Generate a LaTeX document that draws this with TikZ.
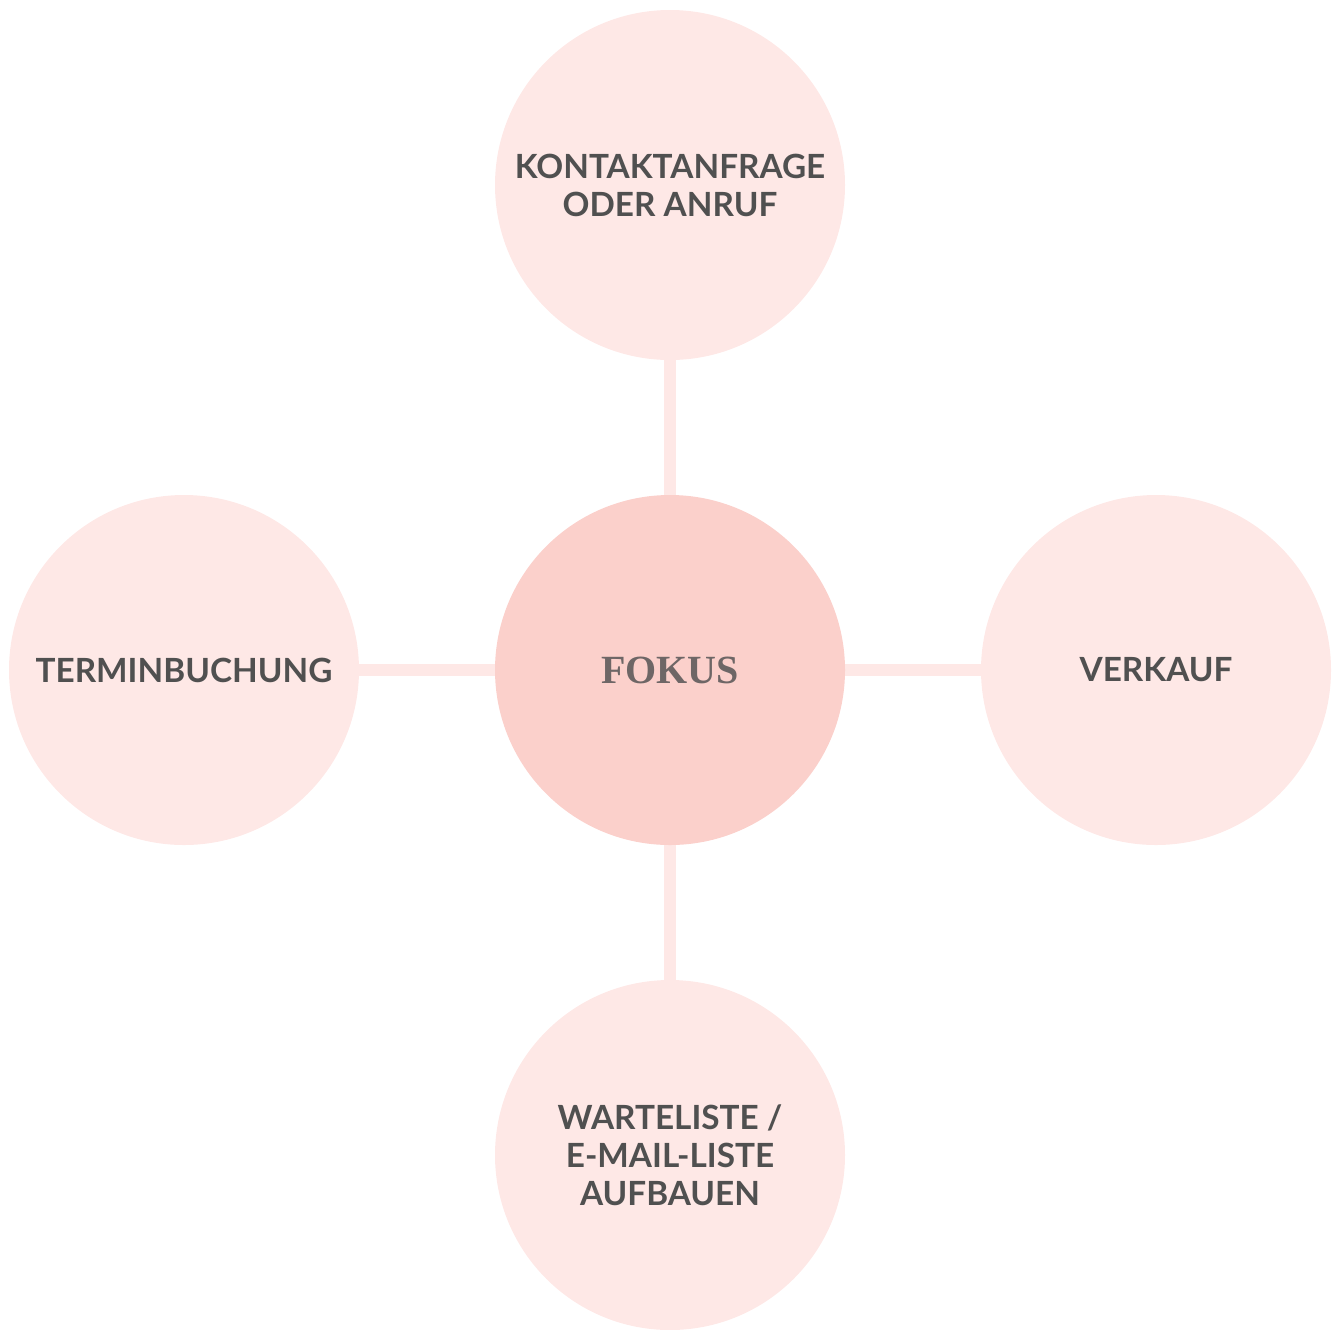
\documentclass[tikz,border=0pt]{standalone}
\usepackage{fontspec}
\setmainfont{Lato}
\newfontfamily\fokusfont{Liberation Serif}
\definecolor{outerpink}{HTML}{FEE8E6}
\definecolor{centerpink}{HTML}{FBD0CB}
\definecolor{labelgray}{HTML}{505050}
\definecolor{fokusgray}{HTML}{6E6666}
\tikzset{
  bubble/.style={circle, fill=outerpink, minimum size=262.5pt, inner sep=0pt, font=\fontsize{25}{28.5}\selectfont\bfseries, text=labelgray, align=center},
  hub/.style={circle, fill=centerpink, minimum size=262.5pt, inner sep=0pt, font=\fontsize{30}{34}\fokusfont\bfseries, text=fokusgray},
  spoke/.style={draw=outerpink, line width=9pt}
}
\begin{document}
\begin{tikzpicture}[x=0.75pt, y=-0.75pt]
\useasboundingbox (0,0) rectangle (1337,1329);
\coordinate (c) at (670,670);
\coordinate (t) at (670,185);
\coordinate (l) at (184,670);
\coordinate (r) at (1156,670);
\coordinate (b) at (670,1155);
\draw[spoke] (c) -- (t);
\draw[spoke] (c) -- (l);
\draw[spoke] (c) -- (r);
\draw[spoke] (c) -- (b);
\node[hub] (fokus) at (c) {FOKUS};
\node[bubble] (kontakt) at (t) {KONTAKTANFRAGE\\ODER ANRUF};
\node[bubble] (termin) at (l) {TERMINBUCHUNG};
\node[bubble] (verkauf) at (r) {VERKAUF};
\node[bubble] (warte) at (b) {WARTELISTE /\\E-MAIL-LISTE\\AUFBAUEN};
\end{tikzpicture}
\end{document}
